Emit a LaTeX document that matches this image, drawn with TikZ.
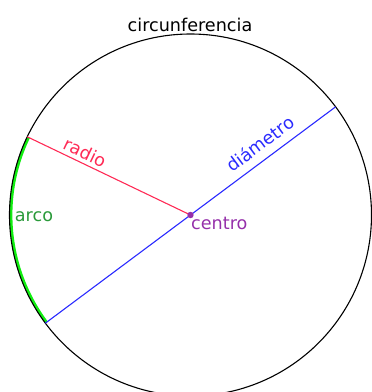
\documentclass[tikz,border=0pt]{standalone}
\usepackage{fontspec}
\setmainfont{DejaVu Sans}
\usetikzlibrary{calc}
\definecolor{radred}{HTML}{FF2A55}
\definecolor{diablue}{HTML}{2A2AFF}
\definecolor{arcgreen}{HTML}{11EE11}
\definecolor{arctext}{HTML}{2A9A3A}
\definecolor{cenpurple}{HTML}{9530AA}
\begin{document}
\begin{tikzpicture}[x=1pt,y=1pt,
  lbl/.style={font=\fontsize{17.6}{20}\selectfont},
  thin line/.style={line width=1.1pt}]
\useasboundingbox (0,0) rectangle (372,392);
\clip (0,0) rectangle (372,392);
\coordinate (O) at (190.5,177);
\coordinate (R) at ($(O)+(154.4:181)$);
\coordinate (D1) at ($(O)+(36.7:181)$);
\coordinate (D2) at ($(O)+(216.7:181)$);
% green arc
\draw[arcgreen, line width=3pt] ($(O)+(154.4:179.6)$) arc[start angle=154.4, end angle=216.7, radius=179.6];
% circle
\draw[black, thin line] (O) circle[radius=181];
% radius
\draw[radred, thin line] (R) -- node[lbl, pos=0.325, sloped, above, inner sep=3.5pt, text=radred] (radlbl) {radio} (O);
% diameter
\draw[diablue, thin line] (D2) -- node[lbl, pos=0.772, sloped, above, inner sep=8pt, text=diablue] (dialbl) {diámetro} (D1);
% centre
\fill[cenpurple] (O) circle[radius=3.2];
\node[lbl, text=cenpurple, anchor=base west, inner sep=0pt] (cenlbl) at (191,162) {centro};
\node[lbl, text=arctext, anchor=base, inner sep=0pt] (arclbl) at (34,170) {arco};
\node[lbl, anchor=base, inner sep=0pt] (title) at (190,360.5) {circunferencia};
\end{tikzpicture}
\end{document}
